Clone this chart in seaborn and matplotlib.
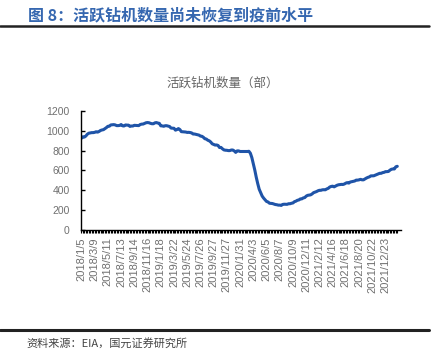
import pandas as pd
import matplotlib.pyplot as plt
import seaborn as sns

# weekly active rig count, 2018/1/5 - 2022/2/18
rigs_2018 = [924, 939, 936, 947, 965, 975, 978, 981, 981, 984, 990, 986, 993,
             1003, 1008, 1011, 1021, 1032, 1045, 1046, 1059, 1060, 1062, 1059,
             1052, 1052, 1054, 1063, 1050, 1048, 1059, 1057, 1057, 1044, 1048,
             1048, 1055, 1054, 1053, 1052, 1063, 1067, 1068, 1075, 1081, 1083,
             1081, 1075, 1071, 1071, 1080, 1083]
rigs_2019 = [1078, 1075, 1050, 1049, 1045, 1051, 1051, 1047, 1043, 1027, 1026,
             1025, 1006, 1012, 1022, 1012, 991, 990, 988, 987, 983, 984, 982,
             978, 967, 967, 963, 958, 956, 946, 944, 934, 919, 916, 904, 898,
             886, 868, 861, 855, 856, 851, 830, 831, 817, 806, 803, 802, 799,
             799, 805, 805]
rigs_2020 = [796, 781, 796, 796, 790, 790, 790, 790, 790, 790, 792, 772, 728,
             664, 602, 529, 465, 408, 374, 339, 318, 301, 284, 279, 266, 265,
             263, 258, 253, 251, 247, 247, 244, 254, 256, 256, 255, 261, 261,
             266, 269, 282, 287, 296, 299, 310, 310, 320, 323, 338, 346, 348,
             351]
rigs_2021 = [360, 373, 378, 384, 392, 397, 397, 402, 403, 402, 411, 417, 430,
             436, 439, 432, 440, 448, 453, 455, 457, 456, 461, 470, 475, 470,
             481, 484, 488, 491, 500, 500, 503, 508, 503, 503, 512, 521, 528,
             533, 543, 543, 544, 550, 556, 563, 569, 569, 576, 579, 586, 586]
rigs_2022 = [588, 601, 610, 613, 613, 635, 640]

tick_labels = ["2018/1/5", "2018/3/9", "2018/5/11", "2018/7/13", "2018/9/14",
               "2018/11/16", "2019/1/18", "2019/3/22", "2019/5/24", "2019/7/26",
               "2019/9/27", "2019/11/27", "2020/1/31", "2020/4/3", "2020/6/5",
               "2020/8/7", "2020/10/9", "2020/12/11", "2021/2/12", "2021/4/16",
               "2021/6/18", "2021/8/20", "2021/10/22", "2021/12/23"]
tick_step = 9

values = rigs_2018 + rigs_2019 + rigs_2020 + rigs_2021 + rigs_2022
df = pd.DataFrame({"week": range(len(values)), "rigs": values})

sns.set_style("white")
plt.rcParams["font.family"] = ["Liberation Sans", "Noto Sans CJK SC", "DejaVu Sans"]

fig = plt.figure(figsize=(4.33, 3.56), dpi=100)
ax = fig.add_axes([0.1864, 0.3553, 0.7396, 0.3329])

sns.lineplot(data=df, x="week", y="rigs", ax=ax, color="#1F54A8", linewidth=2.2)

ax.set_xlim(-0.5, len(values) + 1.5)
ax.set_ylim(0, 1200)
ax.set_yticks(range(0, 1201, 200))
ax.set_xticks(range(len(values)), minor=True)
ax.set_xticks(range(0, len(tick_labels) * tick_step, tick_step))
ax.set_xticklabels(tick_labels, rotation=90)
ax.set_xlabel("")
ax.set_ylabel("")

for s in ["top", "right"]:
    ax.spines[s].set_visible(False)
for s in ["left", "bottom"]:
    ax.spines[s].set_color("black")
    ax.spines[s].set_linewidth(1.0)

ax.tick_params(axis="y", direction="in", length=3, width=1, color="black",
               labelsize=7.5, labelcolor="#707070", pad=8, left=True)
ax.tick_params(axis="x", which="both", direction="out", length=2.5, width=0.8,
               color="black", bottom=True)
ax.tick_params(axis="x", which="major", labelsize=8, labelcolor="#707070", pad=3)

# chart title
fig.text(0.515, 0.767, "活跃钻机数量（部）", fontsize=9, color="#666666",
         ha="center", va="center", family=["Noto Sans CJK SC", "DejaVu Sans"])

# header and footer
fig.text(0.065, 0.958, "图 8：活跃钻机数量尚未恢复到疫前水平", fontsize=11.5,
         color="#3567B0", fontweight="bold", va="center",
         family=["Noto Sans CJK SC", "DejaVu Sans"])
fig.add_artist(plt.Line2D([0, 0.99], [0.927, 0.927], color="#222222", linewidth=1.8))
fig.add_artist(plt.Line2D([0, 0.99], [0.073, 0.073], color="#222222", linewidth=2.2))
fig.text(0.062, 0.036, "资料来源：EIA，国元证券研究所", fontsize=8,
         color="#444444", va="center",
         family=["Noto Sans CJK SC", "DejaVu Sans"])

plt.savefig("out.png", dpi=100)
